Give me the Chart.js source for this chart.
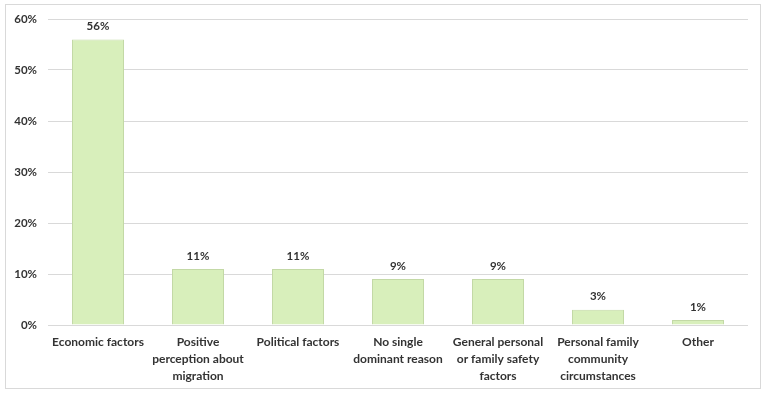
<!DOCTYPE html>
<html>
<head>
<meta charset="utf-8">
<script src="https://cdn.jsdelivr.net/npm/chart.js@4"></script>
<style>
html,body{margin:0;padding:0;background:#fff;}
#wrap{position:relative;width:768px;height:397px;}
#frame{position:absolute;left:5px;top:4px;width:756px;height:385px;border:1px solid #d9d9d9;box-sizing:border-box;}
canvas{position:absolute;left:0;top:0;}
</style>
</head>
<body>
<div id="wrap"><div id="frame"></div><canvas id="c" width="768" height="397"></canvas></div>
<script>
const categories = [
  "Economic factors",
  ["Positive","perception about","migration"],
  "Political factors",
  ["No single","dominant reason"],
  ["General personal","or family safety","factors"],
  ["Personal family","community","circumstances"],
  "Other"
];
const values = [56, 11, 11, 9, 9, 3, 1];
const yTicks = [0, 10, 20, 30, 40, 50, 60];

const FONT = "Lato, 'Open Sans', sans-serif";
const TXT = '#333333';

const valueLabels = {
  id: 'valueLabels',
  afterDatasetsDraw(chart) {
    const ctx = chart.ctx;
    ctx.save();
    ctx.font = 'bold 11.5px ' + FONT;
    ctx.fillStyle = TXT;
    ctx.textAlign = 'center';
    ctx.textBaseline = 'middle';
    chart.getDatasetMeta(0).data.forEach((bar, i) => {
      ctx.fillText(values[i] + '%', bar.x, bar.y - 13);
    });
    ctx.restore();
  }
};

new Chart(document.getElementById('c'), {
  type: 'bar',
  data: {
    labels: categories,
    datasets: [{
      data: values,
      backgroundColor: '#d8efbb',
      borderColor: '#c3d9a6',
      borderWidth: 1,
      barPercentage: 0.52,
      categoryPercentage: 1
    }]
  },
  options: {
    responsive: false,
    animation: false,
    devicePixelRatio: 1,
    layout: { padding: { left: 0, right: 20, top: 19, bottom: 0 } },
    plugins: { legend: { display: false }, tooltip: { enabled: false } },
    scales: {
      x: {
        grid: { display: false, drawTicks: false },
        border: { display: false },
        ticks: {
          color: TXT,
          font: { family: FONT, size: 12, weight: 'bold', lineHeight: 1.4 },
          padding: 9,
          maxRotation: 0,
          autoSkip: false
        },
        afterFit(scale) { scale.height = 72; }
      },
      y: {
        min: 0, max: 60,
        afterBuildTicks(scale) { scale.ticks = yTicks.map(v => ({ value: v })); },
        grid: { color: '#d9d9d9', drawTicks: false },
        border: { display: false },
        ticks: {
          color: TXT,
          font: { family: FONT, size: 11.5, weight: 'bold' },
          padding: 11,
          callback: v => v + '%'
        },
        afterFit(scale) { scale.width = 48; }
      }
    }
  },
  plugins: [valueLabels]
});
</script>
</body>
</html>
